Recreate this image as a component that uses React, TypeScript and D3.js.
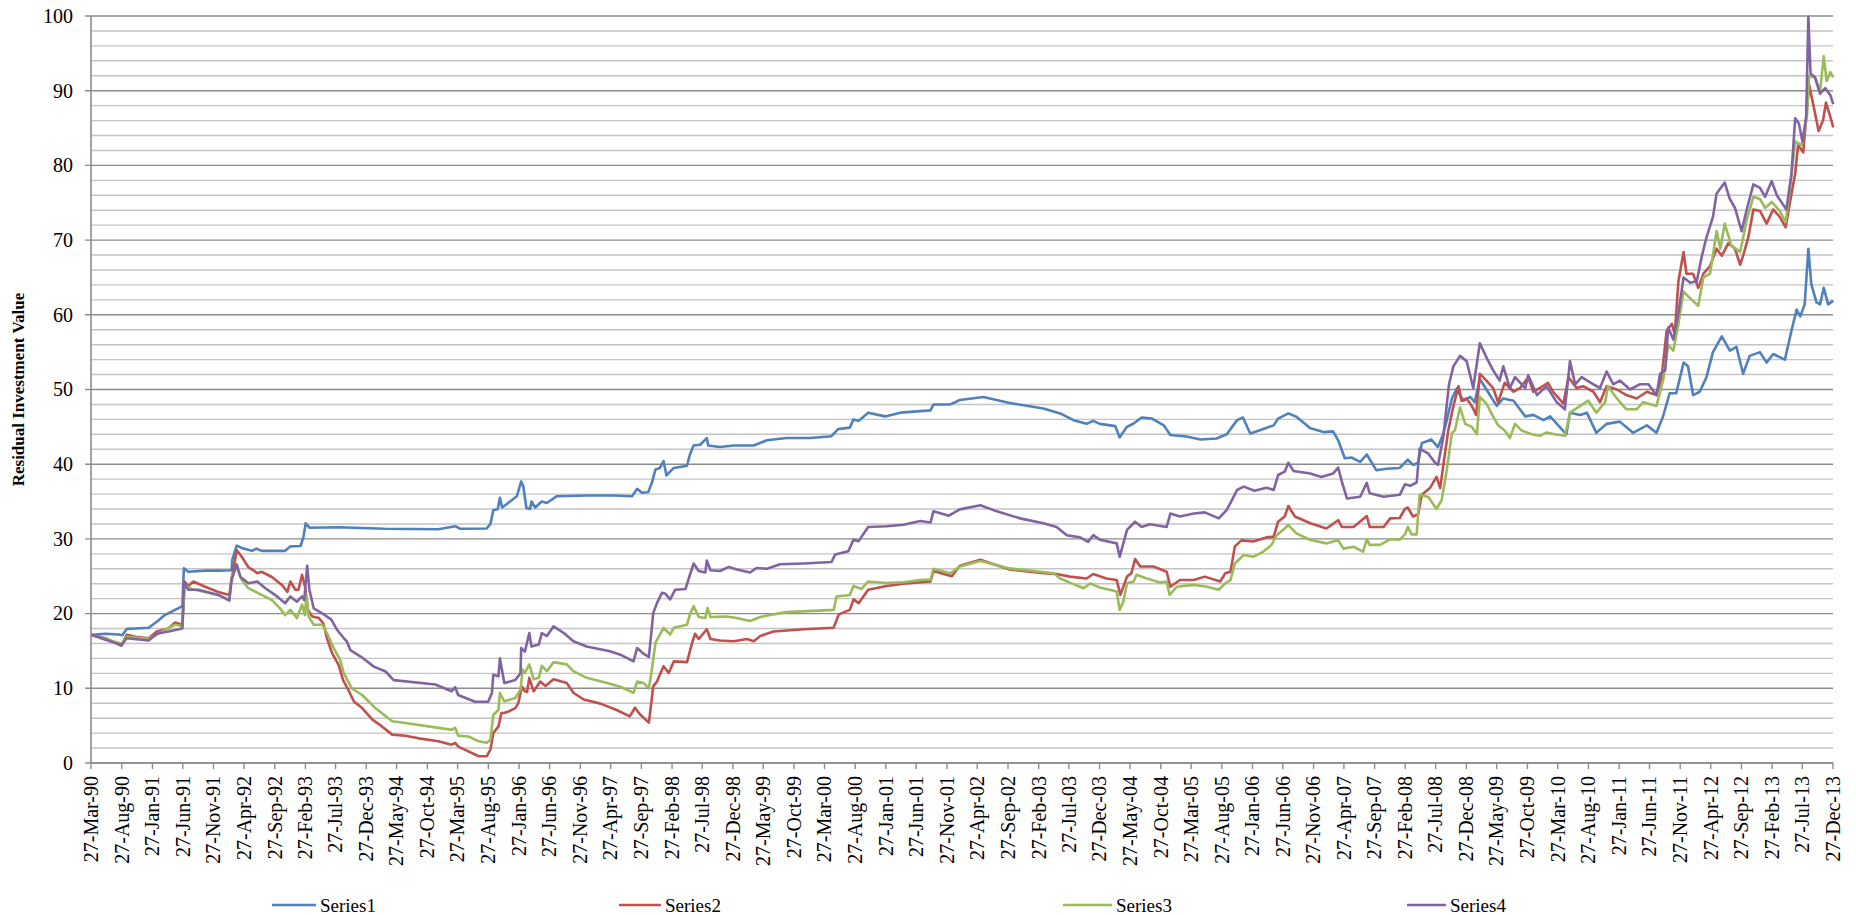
import React from 'react';
import * as d3 from 'd3';

// values: [decimal year, value]
const series1: [number, number][] = [
  [1990.24, 17.15], [1990.43, 17.3], [1990.61, 17.2], [1990.66, 17.1], [1990.72, 17.95], [1990.84, 18.0],
  [1991.02, 18.1], [1991.13, 18.9], [1991.24, 19.8], [1991.36, 20.4], [1991.48, 21.0], [1991.5, 26.05],
  [1991.56, 25.6], [1991.79, 25.75], [1991.97, 25.75], [1992.15, 25.8], [1992.16, 27.2], [1992.22, 29.1],
  [1992.31, 28.7], [1992.43, 28.4], [1992.49, 28.7], [1992.56, 28.4], [1992.88, 28.4], [1992.95, 29.0],
  [1993.09, 29.05], [1993.13, 30.3], [1993.16, 32.1], [1993.21, 31.5], [1993.61, 31.55], [1994.24, 31.35],
  [1994.97, 31.3], [1995.2, 31.7], [1995.27, 31.35], [1995.63, 31.4], [1995.68, 32.0], [1995.72, 33.85],
  [1995.78, 34.0], [1995.81, 35.5], [1995.84, 34.2], [1995.9, 34.65], [1996.04, 35.7], [1996.1, 37.7],
  [1996.13, 37.0], [1996.17, 34.15], [1996.22, 34.0], [1996.24, 35.0], [1996.29, 34.2], [1996.38, 35.0],
  [1996.45, 34.8], [1996.58, 35.7], [1996.99, 35.8], [1997.36, 35.8], [1997.61, 35.7], [1997.68, 36.7],
  [1997.74, 36.2], [1997.83, 36.25], [1997.88, 37.5], [1997.93, 39.3], [1997.99, 39.5], [1998.04, 40.4],
  [1998.08, 38.5], [1998.18, 39.5], [1998.36, 39.8], [1998.4, 41.3], [1998.45, 42.5], [1998.54, 42.6],
  [1998.63, 43.5], [1998.65, 42.5], [1998.81, 42.3], [1999.0, 42.5], [1999.27, 42.5], [1999.45, 43.2],
  [1999.72, 43.5], [2000.04, 43.5], [2000.33, 43.75], [2000.42, 44.7], [2000.58, 44.9], [2000.63, 46.0],
  [2000.7, 45.8], [2000.83, 46.9], [2001.06, 46.4], [2001.27, 46.9], [2001.68, 47.2], [2001.72, 48.0],
  [2001.95, 48.0], [2002.04, 48.4], [2002.08, 48.6], [2002.4, 49.0], [2002.76, 48.2], [2003.22, 47.45],
  [2003.45, 46.8], [2003.63, 45.9], [2003.81, 45.4], [2003.9, 45.8], [2003.99, 45.4], [2004.2, 45.1],
  [2004.26, 43.6], [2004.36, 45.0], [2004.45, 45.45], [2004.56, 46.25], [2004.7, 46.1], [2004.86, 45.2],
  [2004.95, 43.9], [2005.17, 43.7], [2005.36, 43.3], [2005.58, 43.45], [2005.72, 44.0], [2005.86, 45.9],
  [2005.94, 46.25], [2006.04, 44.1], [2006.17, 44.55], [2006.36, 45.2], [2006.42, 46.1], [2006.56, 46.8],
  [2006.67, 46.35], [2006.86, 44.8], [2007.04, 44.3], [2007.17, 44.4], [2007.24, 43.2], [2007.33, 40.8],
  [2007.42, 40.9], [2007.54, 40.3], [2007.63, 41.3], [2007.76, 39.2], [2007.9, 39.4], [2008.08, 39.5],
  [2008.19, 40.6], [2008.26, 39.9], [2008.33, 40.2], [2008.38, 42.8], [2008.51, 43.3], [2008.6, 42.3],
  [2008.67, 44.0], [2008.72, 45.9], [2008.79, 48.8], [2008.86, 50.2], [2008.9, 49.25], [2008.95, 48.5],
  [2009.04, 49.0], [2009.1, 48.3], [2009.17, 51.4], [2009.26, 50.0], [2009.4, 47.8], [2009.49, 48.8],
  [2009.63, 48.5], [2009.79, 46.4], [2009.9, 46.6], [2010.04, 45.9], [2010.13, 46.4], [2010.24, 45.2],
  [2010.35, 44.0], [2010.4, 46.9], [2010.54, 46.6], [2010.63, 46.9], [2010.76, 44.2], [2010.9, 45.4],
  [2011.08, 45.7], [2011.26, 44.2], [2011.45, 45.2], [2011.58, 44.2], [2011.67, 46.4], [2011.76, 49.5],
  [2011.85, 49.5], [2011.95, 53.6], [2012.01, 53.1], [2012.08, 49.25], [2012.17, 49.7], [2012.26, 51.6],
  [2012.35, 55.0], [2012.47, 57.1], [2012.58, 55.2], [2012.67, 55.7], [2012.76, 52.1], [2012.85, 54.5],
  [2012.99, 55.0], [2013.08, 53.6], [2013.17, 54.75], [2013.33, 54.0], [2013.42, 57.9], [2013.49, 60.7],
  [2013.54, 59.8], [2013.6, 61.4], [2013.65, 68.85], [2013.69, 64.1], [2013.76, 61.7], [2013.81, 61.4],
  [2013.86, 63.6], [2013.92, 61.4], [2013.99, 61.9],
];

const series2: [number, number][] = [
  [1990.24, 17.15], [1990.43, 16.7], [1990.65, 15.7], [1990.72, 17.15], [1990.84, 16.9], [1991.02, 16.7],
  [1991.13, 17.6], [1991.29, 18.0], [1991.38, 18.8], [1991.48, 18.5], [1991.51, 24.3], [1991.56, 23.7],
  [1991.63, 24.3], [1991.79, 23.6], [1991.97, 22.9], [1992.12, 22.5], [1992.15, 24.5], [1992.22, 28.5],
  [1992.29, 27.6], [1992.38, 26.2], [1992.45, 25.8], [1992.5, 25.4], [1992.56, 25.6], [1992.7, 24.9],
  [1992.84, 23.8], [1992.91, 22.9], [1992.95, 24.3], [1993.02, 23.2], [1993.06, 23.2], [1993.11, 25.2],
  [1993.15, 23.6], [1993.19, 20.5], [1993.25, 19.6], [1993.34, 19.4], [1993.4, 18.7], [1993.45, 16.7],
  [1993.52, 14.7], [1993.61, 13.1], [1993.67, 11.1], [1993.73, 10.0], [1993.82, 8.2], [1993.93, 7.35],
  [1994.07, 5.8], [1994.2, 4.9], [1994.34, 3.8], [1994.52, 3.65], [1994.7, 3.3], [1994.97, 2.9],
  [1995.15, 2.45], [1995.2, 2.7], [1995.24, 2.2], [1995.38, 1.55], [1995.52, 0.9], [1995.63, 0.9],
  [1995.68, 1.8], [1995.72, 4.0], [1995.79, 4.9], [1995.83, 6.7], [1995.86, 6.7], [1995.93, 6.9],
  [1996.02, 7.35], [1996.06, 8.0], [1996.11, 10.2], [1996.15, 9.6], [1996.18, 9.5], [1996.21, 11.4],
  [1996.27, 9.6], [1996.36, 10.9], [1996.43, 10.3], [1996.54, 11.2], [1996.72, 10.7], [1996.81, 9.4],
  [1996.95, 8.5], [1997.18, 7.95], [1997.4, 7.1], [1997.58, 6.25], [1997.65, 7.4], [1997.72, 6.5],
  [1997.84, 5.4], [1997.9, 10.3], [1997.95, 10.9], [1998.04, 12.95], [1998.11, 12.05], [1998.18, 13.6],
  [1998.36, 13.5], [1998.43, 16.1], [1998.47, 17.3], [1998.52, 16.6], [1998.63, 17.9], [1998.68, 16.6],
  [1998.81, 16.4], [1999.0, 16.3], [1999.18, 16.6], [1999.27, 16.3], [1999.36, 17.0], [1999.54, 17.6],
  [1999.95, 17.9], [2000.36, 18.1], [2000.43, 19.9], [2000.58, 20.5], [2000.63, 21.9], [2000.7, 21.4],
  [2000.83, 23.2], [2001.08, 23.7], [2001.31, 24.0], [2001.68, 24.3], [2001.72, 25.7], [2001.97, 25.0],
  [2002.08, 26.4], [2002.36, 27.2], [2002.76, 25.9], [2003.22, 25.4], [2003.4, 25.3], [2003.58, 24.95],
  [2003.81, 24.7], [2003.9, 25.3], [2004.08, 24.7], [2004.22, 24.5], [2004.27, 22.5], [2004.36, 24.95],
  [2004.42, 25.4], [2004.47, 27.3], [2004.54, 26.3], [2004.72, 26.3], [2004.9, 25.6], [2004.95, 23.6],
  [2005.08, 24.5], [2005.27, 24.5], [2005.42, 24.95], [2005.63, 24.3], [2005.7, 25.4], [2005.77, 25.6],
  [2005.83, 29.0], [2005.92, 29.8], [2006.08, 29.65], [2006.26, 30.2], [2006.36, 30.3], [2006.42, 32.3],
  [2006.51, 33.0], [2006.56, 34.4], [2006.65, 33.0], [2006.86, 32.1], [2007.08, 31.4], [2007.24, 32.5],
  [2007.29, 31.6], [2007.45, 31.6], [2007.63, 33.05], [2007.67, 31.6], [2007.86, 31.6], [2007.95, 32.75],
  [2008.08, 32.8], [2008.15, 34.0], [2008.19, 34.2], [2008.26, 33.0], [2008.33, 33.3], [2008.38, 35.9],
  [2008.49, 36.8], [2008.58, 38.3], [2008.63, 36.8], [2008.67, 39.7], [2008.74, 44.5], [2008.81, 47.8],
  [2008.88, 50.45], [2008.92, 48.5], [2008.99, 48.8], [2009.06, 47.8], [2009.12, 46.6], [2009.17, 52.1],
  [2009.26, 51.2], [2009.35, 50.2], [2009.42, 48.3], [2009.51, 50.9], [2009.63, 49.7], [2009.72, 50.2],
  [2009.83, 51.65], [2009.9, 49.7], [2009.99, 50.2], [2010.1, 50.9], [2010.17, 49.7], [2010.31, 48.1],
  [2010.38, 51.65], [2010.49, 50.2], [2010.58, 50.45], [2010.72, 49.7], [2010.81, 48.3], [2010.9, 50.45],
  [2011.04, 50.0], [2011.17, 49.25], [2011.31, 48.8], [2011.45, 49.7], [2011.58, 49.25], [2011.65, 51.65],
  [2011.72, 57.9], [2011.79, 58.8], [2011.83, 57.4], [2011.88, 64.5], [2011.95, 68.4], [2011.99, 65.5],
  [2012.08, 65.5], [2012.15, 63.6], [2012.22, 65.5], [2012.31, 66.5], [2012.4, 68.85], [2012.47, 67.9],
  [2012.56, 69.6], [2012.65, 68.85], [2012.72, 66.7], [2012.76, 67.9], [2012.83, 70.3], [2012.9, 74.1],
  [2012.99, 73.9], [2013.08, 72.2], [2013.17, 74.1], [2013.26, 73.1], [2013.34, 71.7], [2013.4, 75.1],
  [2013.47, 78.9], [2013.51, 82.7], [2013.58, 81.75], [2013.63, 87.5], [2013.66, 90.8], [2013.72, 88.0],
  [2013.79, 84.6], [2013.85, 86.0], [2013.89, 88.4], [2013.95, 86.5], [2013.99, 85.1],
];

const series3: [number, number][] = [
  [1990.24, 17.15], [1990.43, 16.6], [1990.65, 15.95], [1990.72, 16.9], [1991.02, 16.6], [1991.2, 17.6],
  [1991.38, 18.5], [1991.48, 18.3], [1991.51, 23.8], [1991.61, 23.25], [1991.79, 22.9], [1991.97, 22.5],
  [1992.12, 21.7], [1992.15, 24.9], [1992.22, 26.3], [1992.29, 24.5], [1992.38, 23.4], [1992.56, 22.5],
  [1992.7, 21.8], [1992.81, 20.7], [1992.88, 19.8], [1992.95, 20.5], [1993.04, 19.4], [1993.11, 21.2],
  [1993.15, 19.8], [1993.17, 22.5], [1993.2, 19.6], [1993.27, 18.5], [1993.39, 18.5], [1993.45, 17.4],
  [1993.54, 15.4], [1993.63, 13.8], [1993.68, 12.0], [1993.79, 10.0], [1993.93, 9.1], [1994.11, 7.35],
  [1994.34, 5.6], [1994.52, 5.35], [1994.97, 4.7], [1995.15, 4.45], [1995.2, 4.7], [1995.24, 3.65],
  [1995.38, 3.55], [1995.52, 2.9], [1995.63, 2.7], [1995.68, 3.1], [1995.72, 6.45], [1995.79, 7.1],
  [1995.81, 9.35], [1995.87, 8.25], [1996.02, 8.7], [1996.09, 9.8], [1996.12, 12.5], [1996.15, 12.05],
  [1996.21, 13.2], [1996.27, 11.2], [1996.34, 11.4], [1996.38, 13.0], [1996.45, 12.3], [1996.54, 13.5],
  [1996.72, 13.2], [1996.81, 12.3], [1996.99, 11.4], [1997.27, 10.7], [1997.45, 10.2], [1997.63, 9.4],
  [1997.68, 10.9], [1997.77, 10.7], [1997.84, 10.0], [1997.88, 12.5], [1997.93, 16.1], [1998.04, 18.1],
  [1998.13, 17.2], [1998.18, 18.1], [1998.36, 18.5], [1998.4, 19.9], [1998.45, 21.0], [1998.52, 19.55],
  [1998.61, 19.4], [1998.64, 20.75], [1998.68, 19.55], [1998.9, 19.6], [1999.04, 19.4], [1999.22, 19.0],
  [1999.36, 19.55], [1999.54, 19.9], [1999.72, 20.2], [2000.36, 20.5], [2000.4, 22.3], [2000.58, 22.5],
  [2000.63, 23.7], [2000.74, 23.3], [2000.83, 24.3], [2001.08, 24.1], [2001.31, 24.2], [2001.54, 24.5],
  [2001.68, 24.55], [2001.72, 26.0], [2001.95, 25.4], [2002.08, 26.3], [2002.36, 27.05], [2002.76, 26.05],
  [2003.36, 25.4], [2003.45, 24.7], [2003.58, 24.15], [2003.77, 23.4], [2003.86, 24.05], [2003.99, 23.5],
  [2004.22, 22.95], [2004.26, 20.5], [2004.31, 21.6], [2004.36, 24.05], [2004.45, 24.3], [2004.49, 25.2],
  [2004.63, 24.7], [2004.81, 24.15], [2004.9, 24.3], [2004.94, 22.5], [2005.04, 23.6], [2005.27, 23.85],
  [2005.45, 23.6], [2005.61, 23.2], [2005.7, 24.05], [2005.77, 24.5], [2005.83, 26.7], [2005.95, 27.85],
  [2006.08, 27.6], [2006.22, 28.3], [2006.33, 29.2], [2006.4, 30.5], [2006.51, 31.4], [2006.56, 31.85],
  [2006.67, 30.75], [2006.86, 29.85], [2007.08, 29.4], [2007.24, 29.85], [2007.31, 28.7], [2007.45, 28.95],
  [2007.58, 28.3], [2007.63, 29.95], [2007.67, 29.2], [2007.81, 29.2], [2007.95, 29.95], [2008.08, 29.9],
  [2008.15, 30.6], [2008.19, 31.6], [2008.24, 30.6], [2008.31, 30.6], [2008.35, 35.9], [2008.47, 35.6],
  [2008.58, 34.0], [2008.65, 35.2], [2008.72, 39.2], [2008.79, 44.2], [2008.83, 44.5], [2008.9, 47.6],
  [2008.97, 45.4], [2009.06, 45.0], [2009.13, 44.0], [2009.17, 49.0], [2009.26, 48.1], [2009.35, 46.4],
  [2009.42, 45.2], [2009.51, 44.5], [2009.58, 43.5], [2009.65, 45.4], [2009.74, 44.5], [2009.88, 44.0],
  [2009.99, 43.8], [2010.08, 44.25], [2010.19, 44.0], [2010.33, 43.8], [2010.4, 46.9], [2010.54, 47.8],
  [2010.65, 48.5], [2010.76, 46.9], [2010.88, 48.3], [2010.92, 50.45], [2011.04, 48.8], [2011.17, 47.35],
  [2011.31, 47.35], [2011.4, 48.3], [2011.58, 47.8], [2011.67, 51.2], [2011.74, 55.95], [2011.81, 55.2],
  [2011.88, 58.8], [2011.95, 63.1], [2012.04, 62.2], [2012.15, 61.2], [2012.22, 65.0], [2012.31, 65.5],
  [2012.4, 71.2], [2012.45, 68.85], [2012.51, 72.2], [2012.6, 69.3], [2012.72, 68.4], [2012.81, 72.7],
  [2012.9, 75.8], [2012.99, 75.5], [2013.06, 74.3], [2013.15, 75.1], [2013.26, 73.9], [2013.34, 72.4],
  [2013.4, 77.0], [2013.47, 83.2], [2013.56, 82.7], [2013.63, 86.5], [2013.66, 92.0], [2013.74, 91.8],
  [2013.81, 89.9], [2013.86, 94.6], [2013.9, 91.3], [2013.95, 92.5], [2013.99, 91.8],
];

const series4: [number, number][] = [
  [1990.24, 17.15], [1990.43, 16.5], [1990.65, 15.8], [1990.72, 16.7], [1991.02, 16.4], [1991.13, 17.3],
  [1991.29, 17.6], [1991.48, 18.0], [1991.5, 24.05], [1991.56, 23.2], [1991.7, 23.2], [1991.97, 22.5],
  [1992.12, 21.8], [1992.15, 24.5], [1992.22, 26.6], [1992.27, 24.9], [1992.38, 24.05], [1992.5, 24.3],
  [1992.61, 23.4], [1992.77, 22.3], [1992.88, 21.4], [1992.95, 22.3], [1993.04, 21.6], [1993.11, 22.3],
  [1993.14, 21.8], [1993.18, 26.4], [1993.21, 23.2], [1993.27, 20.7], [1993.39, 20.0], [1993.51, 19.2],
  [1993.59, 17.8], [1993.68, 16.7], [1993.72, 16.3], [1993.77, 15.1], [1993.91, 14.25], [1994.09, 12.9],
  [1994.25, 12.25], [1994.36, 11.1], [1994.93, 10.5], [1995.15, 9.6], [1995.2, 10.15], [1995.24, 9.1],
  [1995.47, 8.2], [1995.65, 8.2], [1995.7, 9.35], [1995.72, 11.8], [1995.79, 11.6], [1995.81, 14.0],
  [1995.87, 10.7], [1996.02, 11.1], [1996.09, 12.0], [1996.1, 15.4], [1996.15, 14.9], [1996.21, 17.4],
  [1996.24, 15.6], [1996.34, 15.85], [1996.38, 17.4], [1996.45, 17.0], [1996.54, 18.3], [1996.68, 17.4],
  [1996.81, 16.3], [1996.99, 15.6], [1997.31, 14.95], [1997.45, 14.5], [1997.63, 13.6], [1997.68, 15.4],
  [1997.77, 14.6], [1997.84, 14.2], [1997.9, 20.1], [1997.95, 21.4], [1998.02, 22.8], [1998.06, 22.7],
  [1998.13, 21.9], [1998.2, 23.2], [1998.34, 23.3], [1998.4, 25.2], [1998.45, 26.7], [1998.52, 25.7],
  [1998.61, 25.5], [1998.63, 27.1], [1998.68, 25.8], [1998.81, 25.7], [1998.93, 26.25], [1999.04, 25.9],
  [1999.22, 25.5], [1999.31, 26.1], [1999.45, 26.0], [1999.63, 26.6], [1999.95, 26.7], [2000.33, 26.9],
  [2000.38, 27.9], [2000.56, 28.35], [2000.63, 29.9], [2000.7, 29.7], [2000.83, 31.6], [2001.08, 31.7],
  [2001.31, 31.9], [2001.54, 32.4], [2001.68, 32.2], [2001.72, 33.7], [2001.93, 33.1], [2002.08, 33.95],
  [2002.36, 34.5], [2002.54, 33.85], [2002.9, 32.75], [2003.22, 32.1], [2003.4, 31.6], [2003.54, 30.5],
  [2003.72, 30.2], [2003.83, 29.6], [2003.9, 30.5], [2003.99, 29.9], [2004.22, 29.4], [2004.26, 27.6],
  [2004.36, 31.2], [2004.47, 32.3], [2004.56, 31.6], [2004.67, 31.95], [2004.9, 31.6], [2004.95, 33.4],
  [2005.08, 33.0], [2005.27, 33.4], [2005.42, 33.55], [2005.61, 32.75], [2005.72, 33.9], [2005.79, 35.2],
  [2005.86, 36.55], [2005.95, 37.0], [2006.1, 36.45], [2006.26, 36.85], [2006.36, 36.55], [2006.42, 38.55],
  [2006.51, 39.0], [2006.56, 40.2], [2006.63, 39.1], [2006.86, 38.75], [2007.01, 38.3], [2007.17, 38.75],
  [2007.24, 39.55], [2007.29, 37.65], [2007.36, 35.4], [2007.54, 35.65], [2007.63, 37.5], [2007.67, 36.1],
  [2007.86, 35.65], [2008.08, 35.9], [2008.15, 37.3], [2008.22, 37.1], [2008.31, 37.55], [2008.35, 42.1],
  [2008.47, 41.4], [2008.56, 40.2], [2008.6, 39.9], [2008.67, 43.5], [2008.75, 50.7], [2008.81, 53.1],
  [2008.9, 54.5], [2008.99, 53.8], [2009.08, 50.2], [2009.17, 56.2], [2009.26, 54.3], [2009.35, 52.6],
  [2009.44, 51.2], [2009.49, 53.1], [2009.58, 50.2], [2009.65, 51.65], [2009.79, 50.2], [2009.83, 51.9],
  [2009.95, 49.25], [2010.08, 50.45], [2010.22, 48.3], [2010.33, 47.35], [2010.4, 53.8], [2010.47, 50.7],
  [2010.56, 51.65], [2010.72, 50.7], [2010.81, 50.2], [2010.9, 52.4], [2010.99, 50.7], [2011.08, 51.2],
  [2011.22, 50.0], [2011.35, 50.7], [2011.47, 50.7], [2011.58, 49.25], [2011.63, 52.1], [2011.7, 52.6],
  [2011.74, 58.3], [2011.81, 56.7], [2011.88, 60.25], [2011.95, 65.0], [2012.04, 64.3], [2012.13, 64.5],
  [2012.2, 67.9], [2012.26, 70.3], [2012.35, 73.1], [2012.4, 76.25], [2012.51, 77.7], [2012.58, 75.5],
  [2012.65, 74.3], [2012.74, 71.2], [2012.81, 74.1], [2012.9, 77.45], [2012.99, 77.0], [2013.06, 75.8],
  [2013.15, 77.9], [2013.22, 76.0], [2013.35, 74.1], [2013.42, 78.9], [2013.47, 86.3], [2013.52, 85.6],
  [2013.57, 83.2], [2013.62, 86.5], [2013.65, 99.9], [2013.68, 92.3], [2013.74, 91.8], [2013.81, 89.6],
  [2013.88, 90.35], [2013.95, 89.4], [2013.99, 88.2],
];

const seriesNames = ['Series1', 'Series2', 'Series3', 'Series4'];
const seriesColors = ['#4F81BD', '#C0504D', '#9BBB59', '#8064A2'];
const yTicks = [0, 10, 20, 30, 40, 50, 60, 70, 80, 90, 100];

const W = 1856;
const H = 915;
const margin = { left: 91, right: 23, top: 16, bottom: 152 };

// decimal year -> Date
const toDate = (yr: number) => {
  const y = Math.floor(yr);
  const a = new Date(y, 0, 1).getTime();
  const b = new Date(y + 1, 0, 1).getTime();
  return new Date(a + (yr - y) * (b - a));
};

const App = () => {
  const x = d3
    .scaleTime()
    .domain([new Date(1990, 2, 27), new Date(2013, 11, 27)])
    .range([margin.left, W - margin.right]);
  const y = d3.scaleLinear().domain([0, 100]).range([H - margin.bottom, margin.top]);

  // ticks every 5 months on the 27th
  const xTicks: Date[] = [];
  for (let i = 0; i <= 57; i++) xTicks.push(new Date(1990, 2 + i * 5, 27));
  const fmt = d3.timeFormat('%d-%b-%y');

  const minor = d3.range(2, 100, 2).filter((v) => v % 10 !== 0);

  const line = d3
    .line<[number, number]>()
    .x((d) => x(toDate(d[0])))
    .y((d) => y(d[1]));

  const all = [series1, series2, series3, series4];
  const x0 = margin.left;
  const x1 = W - margin.right;
  const yBottom = y(0);

  // legend layout
  const legendLine = [
    [272, 316],
    [619, 661],
    [1063, 1112],
    [1407, 1446],
  ];
  const legendY = 905;

  return (
    <svg
      width={W}
      height={H}
      style={{ position: 'fixed', left: 0, top: 0, background: '#fff' }}
      fontFamily="'Liberation Serif', serif"
    >
      {/* minor grid */}
      {minor.map((v) => (
        <line key={'m' + v} x1={x0} x2={x1} y1={y(v)} y2={y(v)} stroke="#c4c4c4" strokeWidth={1.4} />
      ))}
      {/* major grid */}
      {yTicks.map((v) => (
        <line key={'g' + v} x1={x0 - 6} x2={x1} y1={y(v)} y2={y(v)} stroke="#8c8c8c" strokeWidth={1.4} />
      ))}
      {/* y axis */}
      <line x1={x0} x2={x0} y1={y(100)} y2={yBottom} stroke="#8c8c8c" strokeWidth={1.6} />
      {yTicks.map((v) => (
        <text key={'yt' + v} x={73} y={y(v)} dy="0.34em" textAnchor="end" fontSize={20} fill="#000">
          {v}
        </text>
      ))}
      <text
        transform={`translate(18,${(y(0) + y(100)) / 2}) rotate(-90)`}
        textAnchor="middle"
        dy="0.35em"
        fontSize={17}
        fontWeight="bold"
      >
        Residual Investment Value
      </text>
      {/* x axis */}
      <line x1={x0} x2={x1} y1={yBottom} y2={yBottom} stroke="#8c8c8c" strokeWidth={1.6} />
      {xTicks.map((d, i) => (
        <g key={'xt' + i}>
          <line x1={x(d)} x2={x(d)} y1={yBottom} y2={yBottom + 6} stroke="#8c8c8c" strokeWidth={1.4} />
          <text
            transform={`translate(${x(d)},${yBottom + 13}) rotate(-90)`}
            textAnchor="end"
            dy="0.34em"
            fontSize={20}
            fill="#000"
          >
            {fmt(d)}
          </text>
        </g>
      ))}
      {/* series */}
      {all.map((s, i) => (
        <path key={'s' + i} d={line(s) || ''} fill="none" stroke={seriesColors[i]} strokeWidth={2.6} strokeLinejoin="round" />
      ))}
      {/* legend */}
      {seriesNames.map((n, i) => (
        <g key={'l' + i}>
          <line
            x1={legendLine[i][0]}
            x2={legendLine[i][1]}
            y1={legendY}
            y2={legendY}
            stroke={seriesColors[i]}
            strokeWidth={2.6}
          />
          <text x={legendLine[i][1] + 4} y={legendY} dy="0.36em" fontSize={19} fill="#000">
            {n}
          </text>
        </g>
      ))}
    </svg>
  );
};

export default App;
